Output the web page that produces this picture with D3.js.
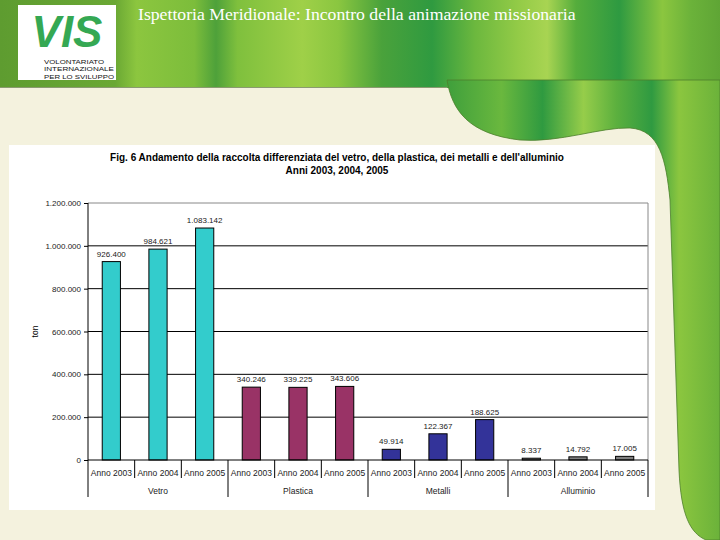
<!DOCTYPE html>
<html>
<head>
<meta charset="utf-8">
<script src="https://cdn.jsdelivr.net/npm/d3@7"></script>
<style>
  html, body { margin: 0; padding: 0; background: #f4f2de; }
  svg { display: block; }
  .axis text { font-family: "Liberation Sans", Arial, sans-serif; }
</style>
</head>
<body>
<div id="chart"></div>
<script>
// chart data
const groups = ["Vetro", "Plastica", "Metalli", "Alluminio"];
const years = ["Anno 2003", "Anno 2004", "Anno 2005"];
const vetro = [926400, 984621, 1083142];
const plastica = [340246, 339225, 343606];
const metalli = [49914, 122367, 188625];
const alluminio = [8337, 14792, 17005];
const yTicks = [0, 200000, 400000, 600000, 800000, 1000000, 1200000];
const groupColors = ["#33cccc", "#993366", "#333399", "#808080"];

const pageTitle = "Ispettoria Meridionale: Incontro della animazione missionaria";
const chartTitle = "Fig. 6  Andamento della raccolta differenziata del vetro, della plastica, dei metalli e dell'alluminio";
const chartSubtitle = "Anni 2003, 2004, 2005";

const width = 720, height = 540;
const margin = ({top: 203, right: 75, bottom: 80, left: 88});

const svg = d3.select("#chart")
  .append("svg")
  .attr("width", width)
  .attr("height", height);

// --- slide background ---
const defs = svg.append("defs");
function stripes(id, stops) {
  const g = defs.append("linearGradient").attr("id", id)
    .attr("x1", 0).attr("x2", 1).attr("y1", 0).attr("y2", 0);
  stops.forEach(s => g.append("stop").attr("offset", s[0]).attr("stop-color", s[1]));
}
stripes("hdr", [
  [0, "#5e9c30"], [0.16, "#6aa834"], [0.19, "#8cc63f"], [0.27, "#7cbd3b"],
  [0.3, "#4ea13a"], [0.33, "#7fc03d"], [0.42, "#9fd048"], [0.47, "#8ac640"],
  [0.53, "#4aa23b"], [0.6, "#2f9a40"], [0.66, "#6cb83e"], [0.72, "#93cb47"],
  [0.76, "#a8d452"], [0.8, "#55ad3c"], [0.86, "#2e9a41"], [0.92, "#8bc63f"],
  [0.96, "#6bb23a"], [1, "#5fa535"]
]);
stripes("side", [
  [0, "#3f9f3c"], [0.2, "#6ab83e"], [0.35, "#2f9a40"], [0.5, "#96cd4a"],
  [0.62, "#5cb03e"], [0.75, "#2f9a41"], [0.85, "#8bc63f"], [1, "#6bb23a"]
]);

svg.append("rect").attr("width", width).attr("height", height).attr("fill", "#f4f2de");
svg.append("rect").attr("width", width).attr("height", 88).attr("fill", "url(#hdr)");
svg.append("line").attr("x1", 0).attr("x2", 447).attr("y1", 87.5).attr("y2", 87.5)
  .attr("stroke", "#8a9a70").attr("stroke-width", 1);

svg.append("path")
  .attr("d", "M447,80 C452,110 468,134 520,140 C560,143 600,127 630,128 C660,130 666,160 670,200 " +
             "L679,470 C681,515 690,533 706,540 L720,540 L720,80 Z")
  .attr("fill", "url(#side)")
  .attr("stroke", "#4d7f2c")
  .attr("stroke-width", 0.8);

// logo
const logo = svg.append("g");
logo.append("rect").attr("x", 18).attr("y", 5).attr("width", 98).attr("height", 75).attr("fill", "#fff");
logo.append("text").attr("x", 67).attr("y", 47)
  .attr("text-anchor", "middle")
  .attr("font-family", "'Liberation Sans', Arial, sans-serif")
  .attr("font-weight", "bold")
  .attr("font-style", "italic")
  .attr("font-size", 44)
  .attr("fill", "#35a853")
  .text("VIS");
[["VOLONTARIATO", 60], ["INTERNAZIONALE", 70], ["PER LO SVILUPPO", 70]].forEach((t, i) => {
  logo.append("text").attr("x", 44).attr("y", 64 + i * 7.3)
    .attr("font-family", "'Liberation Sans', Arial, sans-serif")
    .attr("font-size", 6.2)
    .attr("textLength", t[1])
    .attr("lengthAdjust", "spacingAndGlyphs")
    .attr("fill", "#111")
    .text(t[0]);
});

svg.append("text")
  .attr("x", 138).attr("y", 20)
  .attr("font-family", "'Liberation Serif', 'DejaVu Serif', serif")
  .attr("font-size", 17.7)
  .attr("fill", "#fff")
  .text(pageTitle);

// white panel behind the chart
svg.append("rect").attr("x", 9).attr("y", 145).attr("width", 646).attr("height", 365).attr("fill", "#fff");

svg.append("text")
  .attr("x", 337).attr("y", 161)
  .attr("text-anchor", "middle")
  .attr("font-family", "'Liberation Sans', Arial, sans-serif")
  .attr("font-weight", "bold")
  .attr("font-size", 10)
  .text(chartTitle);
svg.append("text")
  .attr("x", 337).attr("y", 174)
  .attr("text-anchor", "middle")
  .attr("font-family", "'Liberation Sans', Arial, sans-serif")
  .attr("font-weight", "bold")
  .attr("font-size", 10)
  .text(chartSubtitle);

// --- chart ---
const series = [vetro, plastica, metalli, alluminio];
const data = [];
groups.forEach((g, gi) => years.forEach((y, yi) => {
  data.push({key: g + "|" + y, group: g, year: y, gi: gi, value: series[gi][yi]});
}));

const it = d3.formatLocale({decimal: ",", thousands: ".", grouping: [3], currency: ["", ""]});
const fmt = it.format(",");

const x0 = margin.left, x1 = width - margin.right + 3;
const y0 = height - margin.bottom, y1 = margin.top;

const xScale = d3.scaleBand()
  .domain(data.map(d => d.key))
  .range([x0, x1])
  .paddingInner(0.61)
  .paddingOuter(0.305);

const yScale = d3.scaleLinear()
  .domain([0, 1200000])
  .range([y0, y1]);

const step = xScale.step();
const left = d => xScale(d.key) + xScale.bandwidth() / 2 - step / 2;

// gridlines
svg.append("g")
  .selectAll("line")
  .data(yTicks.slice(1))
  .join("line")
  .attr("x1", x0).attr("x2", x1)
  .attr("y1", d => yScale(d)).attr("y2", d => yScale(d))
  .attr("stroke", d => d === 1200000 ? "#888" : "#000")
  .attr("stroke-width", 1);
svg.append("line")
  .attr("x1", x1).attr("x2", x1).attr("y1", y1).attr("y2", y0)
  .attr("stroke", "#888");

// y axis
const yAxis = d3.axisLeft(yScale).tickValues(yTicks).tickFormat(fmt).tickSize(4).tickPadding(3);
const ya = svg.append("g")
  .attr("class", "axis y-axis")
  .attr("transform", `translate(${x0},0)`)
  .call(yAxis);
ya.select(".domain").remove();
ya.selectAll("text").attr("font-size", 8).attr("fill", "#222");
ya.selectAll("line").attr("stroke", "#000");

svg.append("text")
  .attr("transform", `translate(38,${(y0 + y1) / 2}) rotate(-90)`)
  .attr("text-anchor", "middle")
  .attr("font-family", "'Liberation Sans', Arial, sans-serif")
  .attr("font-size", 8.5)
  .text("ton");

// bars
svg.append("g")
  .selectAll("rect")
  .data(data)
  .join("rect")
  .attr("x", d => xScale(d.key))
  .attr("y", d => yScale(d.value))
  .attr("width", xScale.bandwidth())
  .attr("height", d => yScale(0) - yScale(d.value))
  .attr("fill", d => groupColors[d.gi])
  .attr("stroke", "#000")
  .attr("stroke-width", 1);

svg.append("g")
  .selectAll("text")
  .data(data)
  .join("text")
  .attr("x", d => xScale(d.key) + xScale.bandwidth() / 2)
  .attr("y", d => yScale(d.value) - 5)
  .attr("text-anchor", "middle")
  .attr("font-family", "'Liberation Sans', Arial, sans-serif")
  .attr("font-size", 8)
  .attr("fill", "#222")
  .text(d => fmt(d.value));

// axes lines
svg.append("line").attr("x1", x0).attr("x2", x0).attr("y1", y1).attr("y2", y0 + 37).attr("stroke", "#000");
svg.append("line").attr("x1", x0).attr("x2", x1).attr("y1", y0).attr("y2", y0).attr("stroke", "#000");

// category separators and labels
const xa = svg.append("g").attr("class", "axis x-axis");
xa.selectAll(".sep")
  .data(data)
  .join("line")
  .attr("class", "sep")
  .attr("x1", d => left(d) + step).attr("x2", d => left(d) + step)
  .attr("y1", y0)
  .attr("y2", d => d.year === years[2] ? y0 + 37 : y0 + 18)
  .attr("stroke", "#000");

xa.selectAll(".yr")
  .data(data)
  .join("text")
  .attr("class", "yr")
  .attr("x", d => left(d) + step / 2)
  .attr("y", y0 + 16)
  .attr("text-anchor", "middle")
  .attr("font-size", 8.5)
  .attr("fill", "#222")
  .text(d => d.year);

xa.selectAll(".grp")
  .data(groups)
  .join("text")
  .attr("class", "grp")
  .attr("x", g => {
    const first = data.find(d => d.group === g);
    return left(first) + step * 1.5;
  })
  .attr("y", y0 + 34)
  .attr("text-anchor", "middle")
  .attr("font-size", 8.5)
  .attr("fill", "#222")
  .text(g => g);
</script>
</body>
</html>
